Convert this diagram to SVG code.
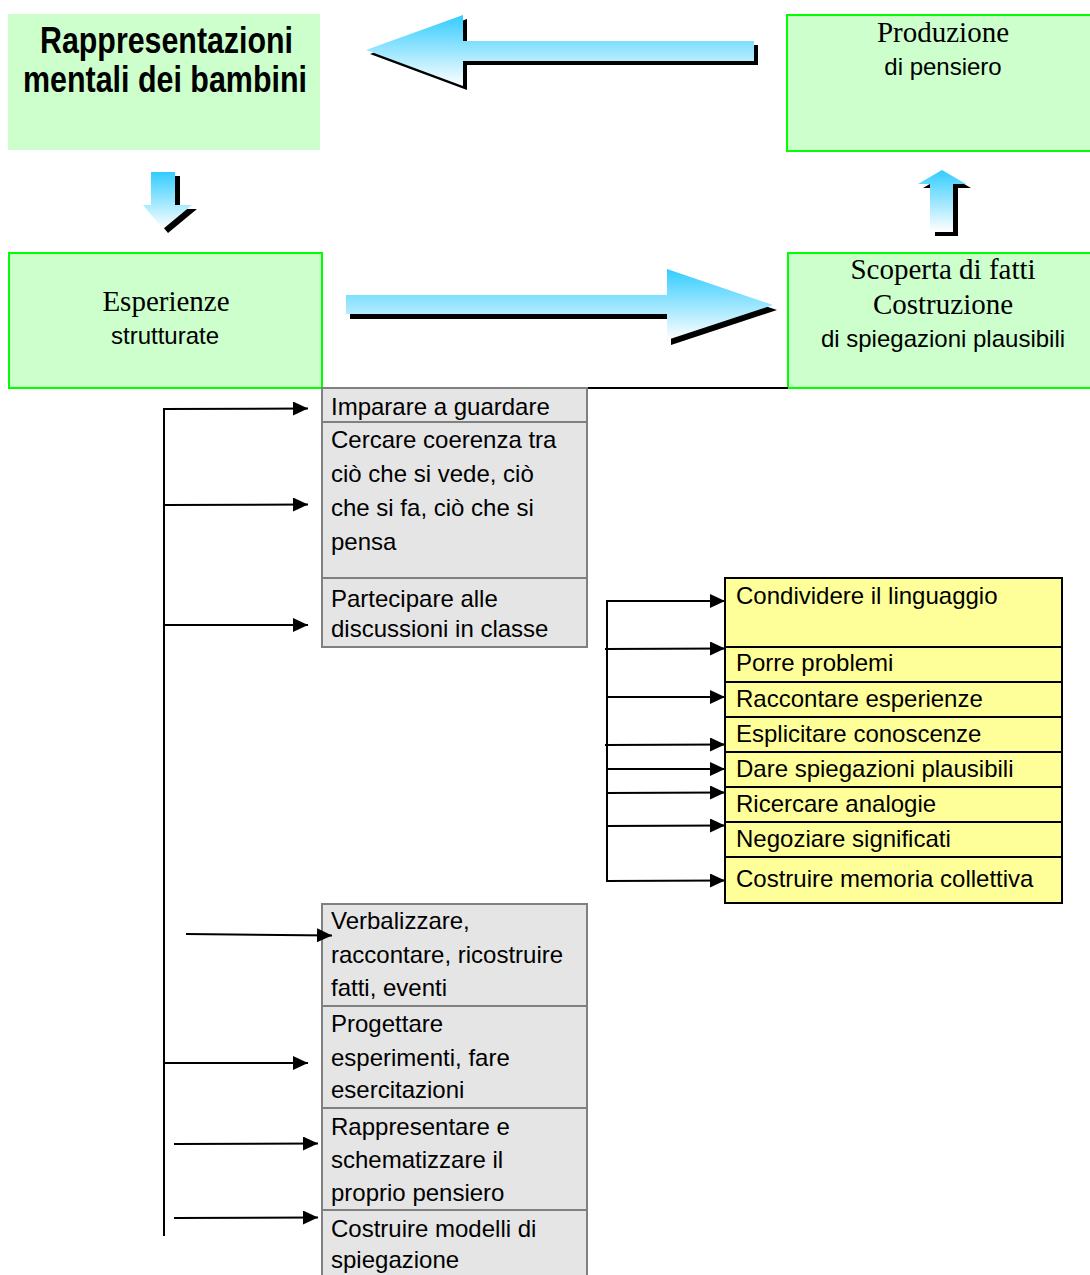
<svg xmlns="http://www.w3.org/2000/svg" width="1090" height="1275" viewBox="0 0 1090 1275">
<defs>
<linearGradient id="blueV" x1="0" y1="0" x2="0" y2="1">
<stop offset="0" stop-color="#33ccff"/>
<stop offset="1" stop-color="#ffffff"/>
</linearGradient>
<marker id="ah" markerUnits="userSpaceOnUse" markerWidth="16" markerHeight="15" refX="15" refY="7" orient="auto">
<path d="M0,0 L15,7 L0,14 z" fill="#000"/>
</marker>
<style>
.green{fill:#ccffcc;stroke:#00ff00;stroke-width:2}
.gray{fill:#e5e5e5;stroke:#808080;stroke-width:2}
.yellow{fill:#ffff99;stroke:#000;stroke-width:2}
.sans{font-family:"Liberation Sans",Arial,sans-serif;font-size:24px;fill:#000}
.serif{font-family:"Liberation Serif","Times New Roman",serif;font-size:29px;fill:#000}
.title{font-family:"Liberation Sans",Arial,sans-serif;font-size:37px;font-weight:bold;fill:#000}
.conn{stroke:#000;stroke-width:2;fill:none}
.arr{stroke:#000;stroke-width:2;fill:none;marker-end:url(#ah)}
.shadow{fill:#000}
.grad{fill:url(#blueV)}
</style>
</defs>
<rect width="1090" height="1275" fill="#ffffff"/>

<g id="rappresentazioni">
<rect x="8" y="14" width="312" height="136" fill="#ccffcc"/>
<text class="title" x="166.5" y="53" text-anchor="middle" textLength="253" lengthAdjust="spacingAndGlyphs">Rappresentazioni</text>
<text class="title" x="165" y="92" text-anchor="middle" textLength="284" lengthAdjust="spacingAndGlyphs">mentali dei bambini</text>
</g>

<g id="produzione">
<rect class="green" x="787" y="15" width="310" height="136"/>
<text class="serif" x="943" y="42" text-anchor="middle">Produzione</text>
<text class="sans" x="943" y="75" text-anchor="middle">di pensiero</text>
</g>

<g id="esperienze">
<rect class="green" x="9" y="253" width="313" height="135"/>
<text class="serif" x="166" y="311" text-anchor="middle">Esperienze</text>
<text class="sans" x="165" y="344" text-anchor="middle">strutturate</text>
</g>

<g id="scoperta">
<rect class="green" x="788" y="253" width="310" height="135"/>
<text class="serif" x="943" y="279" text-anchor="middle">Scoperta di fatti</text>
<text class="serif" x="943" y="314" text-anchor="middle">Costruzione</text>
<text class="sans" x="943" y="347" text-anchor="middle">di spiegazioni plausibili</text>
</g>

<g id="big-arrows">
<g id="arrow-left">
<polygon class="shadow" transform="translate(4,4)" points="366,50 463,15 463,41 754,41 754,61 463,61 463,86"/>
<polygon class="grad" points="366,50 463,15 463,41 754,41 754,61 463,61 463,86"/>
</g>
<g id="arrow-right">
<polygon class="shadow" transform="translate(4,5)" points="346,295 667,295 667,269 773,305 667,340 667,314 346,314"/>
<polygon class="grad" points="346,295 667,295 667,269 773,305 667,340 667,314 346,314"/>
</g>
<g id="arrow-up">
<polygon class="shadow" transform="translate(5,4)" points="942,170 966,184 953,184 953,232 930,232 930,184 918,184"/>
<polygon class="grad" points="942,170 966,184 953,184 953,232 930,232 930,184 918,184"/>
</g>
<g id="arrow-down">
<polygon class="shadow" transform="translate(5,4)" points="151,172 175,172 175,205 192,205 163,229 143,205 151,205"/>
<polygon class="grad" points="151,172 175,172 175,205 192,205 163,229 143,205 151,205"/>
</g>
</g>

<line x1="322" y1="388" x2="788" y2="388" stroke="#000" stroke-width="2"/>

<g id="imparare">
<rect class="gray" x="322" y="388" width="265" height="34"/>
<text class="sans" x="331" y="415">Imparare a guardare</text>
</g>
<g id="cercare">
<rect class="gray" x="322" y="422" width="265" height="156"/>
<text class="sans" x="331" y="448">Cercare coerenza tra</text>
<text class="sans" x="331" y="482">ciò che si vede, ciò</text>
<text class="sans" x="331" y="516">che si fa, ciò che si</text>
<text class="sans" x="331" y="550">pensa</text>
</g>
<g id="partecipare">
<rect class="gray" x="322" y="578" width="265" height="69"/>
<text class="sans" x="331" y="607">Partecipare alle</text>
<text class="sans" x="331" y="637">discussioni in classe</text>
</g>

<g id="verbalizzare">
<rect class="gray" x="322" y="904" width="265" height="102"/>
<text class="sans" x="331" y="929">Verbalizzare,</text>
<text class="sans" x="331" y="963">raccontare, ricostruire</text>
<text class="sans" x="331" y="996">fatti, eventi</text>
</g>
<g id="progettare">
<rect class="gray" x="322" y="1006" width="265" height="102"/>
<text class="sans" x="331" y="1032">Progettare</text>
<text class="sans" x="331" y="1066">esperimenti, fare</text>
<text class="sans" x="331" y="1098">esercitazioni</text>
</g>
<g id="rappresentare">
<rect class="gray" x="322" y="1108" width="265" height="102"/>
<text class="sans" x="331" y="1135">Rappresentare e</text>
<text class="sans" x="331" y="1168">schematizzare il</text>
<text class="sans" x="331" y="1201">proprio pensiero</text>
</g>
<g id="costruire-modelli">
<rect class="gray" x="322" y="1210" width="265" height="80"/>
<text class="sans" x="331" y="1237">Costruire modelli di</text>
<text class="sans" x="331" y="1268">spiegazione</text>
</g>

<g id="condividere">
<rect class="yellow" x="725" y="578" width="337" height="69"/>
<text class="sans" x="736" y="604">Condividere il linguaggio</text>
</g>
<g id="porre">
<rect class="yellow" x="725" y="647" width="337" height="35"/>
<text class="sans" x="736" y="671">Porre problemi</text>
</g>
<g id="raccontare">
<rect class="yellow" x="725" y="682" width="337" height="35"/>
<text class="sans" x="736" y="707">Raccontare esperienze</text>
</g>
<g id="esplicitare">
<rect class="yellow" x="725" y="717" width="337" height="35"/>
<text class="sans" x="736" y="742">Esplicitare conoscenze</text>
</g>
<g id="dare">
<rect class="yellow" x="725" y="752" width="337" height="35"/>
<text class="sans" x="736" y="777">Dare spiegazioni plausibili</text>
</g>
<g id="ricercare">
<rect class="yellow" x="725" y="787" width="337" height="35"/>
<text class="sans" x="736" y="812">Ricercare analogie</text>
</g>
<g id="negoziare">
<rect class="yellow" x="725" y="822" width="337" height="35"/>
<text class="sans" x="736" y="847">Negoziare significati</text>
</g>
<g id="costruire-memoria">
<rect class="yellow" x="725" y="857" width="337" height="46"/>
<text class="sans" x="736" y="887">Costruire memoria collettiva</text>
</g>

<g id="connectors">
<line class="conn" x1="164" y1="408" x2="164" y2="1236"/>
<line class="arr" x1="163" y1="409" x2="308" y2="408.5"/>
<line class="arr" x1="164" y1="505" x2="308" y2="504.5"/>
<line class="arr" x1="164" y1="625" x2="308" y2="625"/>
<line class="arr" x1="186" y1="934" x2="332" y2="935.5"/>
<line class="arr" x1="164" y1="1063" x2="308" y2="1063"/>
<line class="arr" x1="174" y1="1144" x2="318" y2="1143.5"/>
<line class="arr" x1="174" y1="1218" x2="318" y2="1217.5"/>

<line class="conn" x1="607" y1="600" x2="607" y2="882"/>
<line class="arr" x1="606" y1="601" x2="725" y2="601"/>
<line class="arr" x1="605" y1="649" x2="725" y2="648.5"/>
<line class="arr" x1="606" y1="697" x2="725" y2="697"/>
<line class="arr" x1="605" y1="745" x2="725" y2="744.5"/>
<line class="arr" x1="606" y1="769" x2="725" y2="769"/>
<line class="arr" x1="606" y1="793" x2="725" y2="792.5"/>
<line class="arr" x1="606" y1="826" x2="725" y2="825.5"/>
<line class="arr" x1="606" y1="881" x2="725" y2="880.5"/>
</g>
</svg>
